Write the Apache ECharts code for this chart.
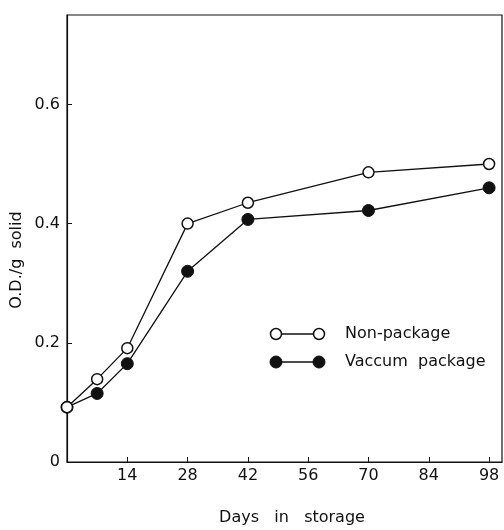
<!DOCTYPE html>
<html>
<head>
<meta charset="utf-8">
<script src="https://cdn.jsdelivr.net/npm/echarts@6/dist/echarts.min.js"></script>
<style>
html,body{margin:0;padding:0;background:#fff;}
#chart{width:504px;height:530px;}
</style>
</head>
<body>
<div id="chart"></div>
<script>
var days = [0, 7, 14, 28, 42, 70, 98];
var nonPackage = [0.092, 0.139, 0.191, 0.400, 0.435, 0.486, 0.500];
var vacuumPackage = [0.092, 0.115, 0.165, 0.320, 0.407, 0.422, 0.460];
var xTicks = [14, 28, 42, 56, 70, 84, 98];
var yTicks = [0, 0.2, 0.4, 0.6];
var seriesNames = ['Non-package', 'Vaccum package'];
var xTitle = 'Days   in   storage';
var yTitle = 'O.D./g  solid';

var FONT = '"DejaVu Sans", "Liberation Sans", sans-serif';
var chart = echarts.init(document.getElementById('chart'), null, {renderer: 'canvas'});

function pairs(xs, ys) { return xs.map(function (x, i) { return [x, ys[i]]; }); }

var option = {
  backgroundColor: '#fff',
  animation: false,
  grid: {left: 67, right: 2, top: 15, bottom: 68, show: true, borderColor: '#111', borderWidth: 1.2, backgroundColor: 'transparent'},
  xAxis: {
    type: 'value', min: 0, max: 101,
    axisLine: {show: true, lineStyle: {color: '#111', width: 1.2}},
    axisTick: {show: true, inside: true, length: 5, lineStyle: {color: '#111'}, customValues: xTicks},
    axisLabel: {fontFamily: FONT, fontSize: 16, color: '#111', margin: 6, customValues: xTicks},
    splitLine: {show: false}
  },
  yAxis: {
    type: 'value', min: 0, max: 0.75,
    axisLine: {show: true, lineStyle: {color: '#111', width: 1.2}},
    axisTick: {show: true, inside: true, length: 5, lineStyle: {color: '#111'}, customValues: yTicks},
    axisLabel: {fontFamily: FONT, fontSize: 16, color: '#111', margin: 7, customValues: yTicks,
      formatter: function (v) { return v === 0 ? '0' : v.toFixed(1); }},
    splitLine: {show: false}
  },
  series: [
    {
      name: seriesNames[1], type: 'line', data: pairs(days, vacuumPackage),
      symbol: 'circle', symbolSize: 12, z: 2,
      lineStyle: {color: '#111', width: 1.3},
      itemStyle: {color: '#111', borderColor: '#111', borderWidth: 1}
    },
    {
      name: seriesNames[0], type: 'line', data: pairs(days, nonPackage),
      symbol: 'circle', symbolSize: 11, z: 3,
      lineStyle: {color: '#111', width: 1.3},
      itemStyle: {color: '#fff', borderColor: '#111', borderWidth: 1.5}
    }
  ],
  graphic: [
    {type: 'text', x: 292, y: 518, style: {text: xTitle, font: '16px ' + FONT, fill: '#111', align: 'center', verticalAlign: 'middle'}},
    {type: 'text', x: 17, y: 260, rotation: Math.PI / 2, style: {text: yTitle, font: '16px ' + FONT, fill: '#111', align: 'center', verticalAlign: 'middle'}},
    {type: 'line', shape: {x1: 276, y1: 334, x2: 319, y2: 334}, style: {stroke: '#111', lineWidth: 1.3}},
    {type: 'circle', shape: {cx: 276, cy: 334, r: 5.5}, style: {fill: '#fff', stroke: '#111', lineWidth: 1.5}},
    {type: 'circle', shape: {cx: 319, cy: 334, r: 5.5}, style: {fill: '#fff', stroke: '#111', lineWidth: 1.5}},
    {type: 'text', x: 345, y: 334, style: {text: seriesNames[0], font: '16px ' + FONT, fill: '#111', verticalAlign: 'middle'}},
    {type: 'line', shape: {x1: 276, y1: 362, x2: 319, y2: 362}, style: {stroke: '#111', lineWidth: 1.3}},
    {type: 'circle', shape: {cx: 276, cy: 362, r: 6}, style: {fill: '#111', stroke: '#111', lineWidth: 1}},
    {type: 'circle', shape: {cx: 319, cy: 362, r: 6}, style: {fill: '#111', stroke: '#111', lineWidth: 1}},
    {type: 'text', x: 345, y: 362, style: {text: 'Vaccum  package', font: '16px ' + FONT, fill: '#111', verticalAlign: 'middle'}}
  ]
};
chart.setOption(option);
</script>
</body>
</html>
